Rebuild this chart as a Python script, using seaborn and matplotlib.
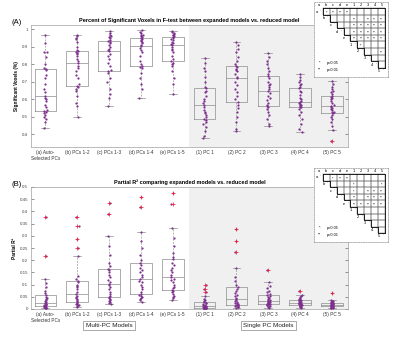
import pandas as pd
import matplotlib
matplotlib.use("Agg")
import matplotlib.pyplot as plt
import matplotlib.transforms as mtransforms
from matplotlib.patches import Rectangle
import seaborn as sns

group_labels = ["(a) Auto-\nSelected PCs", "(b) PCs 1-2", "(c) PCs 1-3", "(d) PCs 1-4", "(e) PCs 1-5",
                "(1) PC 1", "(2) PC 2", "(3) PC 3", "(4) PC 4", "(5) PC 5"]

# percent of significant voxels (panel A), one list per model
sig_voxels = [
    [0.436, 0.47, 0.49, 0.50, 0.51, 0.52, 0.525, 0.532, 0.54, 0.555, 0.57, 0.59, 0.60, 0.61, 0.62,
     0.64, 0.66, 0.69, 0.72, 0.74, 0.765, 0.776, 0.78, 0.80, 0.84, 0.87, 0.87, 0.92, 0.967],
    [0.496, 0.56, 0.58, 0.62, 0.65, 0.66, 0.67, 0.675, 0.69, 0.72, 0.74, 0.76, 0.78, 0.79, 0.805,
     0.82, 0.83, 0.85, 0.86, 0.865, 0.87, 0.877, 0.88, 0.90, 0.93, 0.945, 0.95, 0.96, 0.967],
    [0.56, 0.61, 0.63, 0.66, 0.70, 0.72, 0.75, 0.759, 0.77, 0.79, 0.81, 0.83, 0.85, 0.86, 0.874,
     0.88, 0.89, 0.90, 0.91, 0.92, 0.925, 0.931, 0.94, 0.95, 0.955, 0.96, 0.97, 0.98, 0.989],
    [0.605, 0.66, 0.69, 0.72, 0.75, 0.78, 0.785, 0.79, 0.80, 0.82, 0.85, 0.87, 0.88, 0.895, 0.906,
     0.91, 0.92, 0.93, 0.935, 0.94, 0.945, 0.952, 0.955, 0.96, 0.965, 0.97, 0.98, 0.985, 0.994],
    [0.63, 0.69, 0.72, 0.76, 0.79, 0.80, 0.81, 0.817, 0.83, 0.85, 0.87, 0.88, 0.89, 0.90, 0.908,
     0.915, 0.92, 0.93, 0.94, 0.945, 0.95, 0.958, 0.96, 0.965, 0.97, 0.975, 0.98, 0.985, 0.99],
    [0.379, 0.39, 0.42, 0.44, 0.46, 0.47, 0.48, 0.486, 0.50, 0.51, 0.52, 0.53, 0.54, 0.555, 0.565,
     0.58, 0.59, 0.60, 0.62, 0.64, 0.65, 0.662, 0.67, 0.70, 0.73, 0.76, 0.78, 0.81, 0.837],
    [0.417, 0.43, 0.47, 0.50, 0.53, 0.55, 0.57, 0.583, 0.60, 0.62, 0.64, 0.66, 0.68, 0.70, 0.719,
     0.73, 0.745, 0.76, 0.77, 0.775, 0.785, 0.79, 0.80, 0.82, 0.84, 0.87, 0.89, 0.91, 0.925],
    [0.45, 0.46, 0.49, 0.51, 0.53, 0.545, 0.555, 0.564, 0.57, 0.58, 0.595, 0.61, 0.62, 0.635, 0.646,
     0.66, 0.67, 0.68, 0.69, 0.70, 0.72, 0.732, 0.745, 0.76, 0.78, 0.80, 0.82, 0.84, 0.866],
    [0.41, 0.43, 0.46, 0.49, 0.51, 0.53, 0.545, 0.553, 0.556, 0.56, 0.565, 0.57, 0.574, 0.578, 0.582,
     0.59, 0.60, 0.61, 0.625, 0.64, 0.65, 0.662, 0.67, 0.68, 0.69, 0.70, 0.71, 0.725, 0.742],
    [0.36, 0.423, 0.45, 0.47, 0.49, 0.50, 0.51, 0.519, 0.525, 0.53, 0.54, 0.545, 0.55, 0.555, 0.562,
     0.57, 0.58, 0.59, 0.60, 0.605, 0.612, 0.62, 0.63, 0.64, 0.65, 0.66, 0.67, 0.69, 0.705],
]

# partial R^2 (panel B)
partial_r2 = [
    [0.004, 0.005, 0.006, 0.007, 0.008, 0.009, 0.010, 0.011, 0.012, 0.014, 0.016, 0.018, 0.020, 0.022, 0.025,
     0.028, 0.032, 0.036, 0.040, 0.045, 0.050, 0.058, 0.065, 0.075, 0.09, 0.105, 0.121, 0.217, 0.377],
    [0.010, 0.012, 0.015, 0.018, 0.020, 0.022, 0.025, 0.028, 0.032, 0.038, 0.042, 0.045, 0.048, 0.055, 0.062,
     0.07, 0.08, 0.09, 0.095, 0.10, 0.11, 0.115, 0.125, 0.135, 0.218, 0.25, 0.286, 0.34, 0.377],
    [0.020, 0.025, 0.028, 0.032, 0.038, 0.042, 0.046, 0.050, 0.055, 0.06, 0.07, 0.08, 0.09, 0.10, 0.104,
     0.11, 0.12, 0.13, 0.14, 0.15, 0.16, 0.163, 0.175, 0.19, 0.22, 0.26, 0.301, 0.388, 0.434],
    [0.030, 0.035, 0.040, 0.045, 0.05, 0.055, 0.058, 0.062, 0.07, 0.08, 0.09, 0.10, 0.11, 0.115, 0.121,
     0.13, 0.14, 0.15, 0.16, 0.17, 0.18, 0.187, 0.20, 0.22, 0.25, 0.28, 0.315, 0.416, 0.461],
    [0.036, 0.045, 0.05, 0.055, 0.06, 0.07, 0.075, 0.079, 0.085, 0.09, 0.10, 0.11, 0.12, 0.125, 0.13,
     0.14, 0.15, 0.16, 0.17, 0.18, 0.19, 0.204, 0.215, 0.23, 0.26, 0.29, 0.332, 0.432, 0.477],
    [0.002, 0.003, 0.003, 0.004, 0.004, 0.005, 0.005, 0.005, 0.006, 0.007, 0.008, 0.009, 0.010, 0.011, 0.012,
     0.014, 0.016, 0.018, 0.020, 0.023, 0.026, 0.030, 0.033, 0.037, 0.042, 0.052, 0.070, 0.084, 0.098],
    [0.005, 0.007, 0.009, 0.011, 0.013, 0.015, 0.017, 0.018, 0.020, 0.023, 0.026, 0.029, 0.032, 0.036, 0.041,
     0.046, 0.052, 0.058, 0.065, 0.072, 0.082, 0.091, 0.10, 0.115, 0.13, 0.17, 0.232, 0.28, 0.326],
    [0.006, 0.009, 0.011, 0.013, 0.015, 0.017, 0.019, 0.021, 0.022, 0.024, 0.025, 0.027, 0.028, 0.030, 0.032,
     0.035, 0.038, 0.042, 0.046, 0.050, 0.054, 0.058, 0.062, 0.068, 0.075, 0.085, 0.095, 0.112, 0.16],
    [0.005, 0.007, 0.009, 0.011, 0.013, 0.014, 0.016, 0.017, 0.018, 0.019, 0.020, 0.021, 0.022, 0.024, 0.025,
     0.026, 0.028, 0.029, 0.031, 0.033, 0.035, 0.036, 0.038, 0.041, 0.044, 0.048, 0.053, 0.059, 0.075],
    [0.004, 0.005, 0.006, 0.007, 0.008, 0.009, 0.010, 0.011, 0.012, 0.013, 0.014, 0.015, 0.016, 0.017, 0.018,
     0.019, 0.020, 0.021, 0.022, 0.023, 0.024, 0.025, 0.026, 0.028, 0.029, 0.031, 0.033, 0.037, 0.066],
]

# pairwise significance tables (row i vs columns after i)
table_labels = ["a", "b", "c", "d", "e", "1", "2", "3", "4", "5"]
sig_table_a = [
    ["*", "**", "**", "**", "", "", "", "", ""],
    ["", "", "", "**", "", "**", "**", "**"],
    ["", "", "**", "**", "**", "**", "**"],
    ["", "**", "**", "**", "**", "**"],
    ["**", "**", "**", "**", "**"],
    ["*", "", "", ""],
    ["", "", "**"],
    ["", ""],
    [""],
]
sig_table_b = [
    ["", "*", "**", "**", "", "", "", "", ""],
    ["", "", "", "*", "", "", "", "*"],
    ["", "", "*", "", "**", "**", "**"],
    ["", "**", "", "**", "**", "**"],
    ["**", "**", "**", "**", "**"],
    ["", "", "", ""],
    ["", "", ""],
    ["", ""],
    [""],
]

PURPLE = "#7E2F8E"
BOXGRAY = "#8c8c8c"
plt.rcParams['font.family'] = ['Liberation Sans', 'DejaVu Sans']

W, H = 400, 337
fig = plt.figure(figsize=(4, 3.37), dpi=100)


def long_form(values):
    rows = []
    for lab, vals in zip(group_labels, values):
        for v in vals:
            rows.append((lab, v))
    return pd.DataFrame(rows, columns=["group", "value"])


def draw_panel(ax, df, ylim, yticks, yticklabels, ylabel, title):
    ax.axvspan(4.5, 9.6, color="#f0f0f0", lw=0, zorder=0)
    sns.stripplot(data=df, x="group", y="value", ax=ax, color=PURPLE, size=1.6,
                  jitter=0.05, linewidth=0, zorder=3)
    sns.boxplot(data=df, x="group", y="value", ax=ax, fill=False, color=BOXGRAY,
                width=0.68, linewidth=0.5, whis=1.5, capwidths=0.25,
                whiskerprops=dict(linestyle=(0, (3, 2)), linewidth=0.45),
                flierprops=dict(marker="+", markeredgecolor="#e8203a", markersize=2.4,
                                markeredgewidth=0.55, zorder=4))
    ax.set_xlim(-0.45, 9.5)
    ax.set_ylim(*ylim)
    ax.set_yticks(yticks)
    ax.set_yticklabels(yticklabels)
    ax.set_xlabel("")
    ax.set_ylabel(ylabel, fontsize=3.4, fontweight="bold", labelpad=2)
    ax.set_title(title, fontsize=4.0, fontweight="bold", pad=2.5)
    ax.tick_params(axis="y", direction="in", right=True, length=2, width=0.4,
                   labelsize=3.2, colors="#444444", pad=2)
    ax.tick_params(axis="x", length=0, labelsize=3.4, colors="#333333", pad=2.5)
    for s in ax.spines.values():
        s.set_color("#a0a0a0")
        s.set_linewidth(0.5)


def draw_table(rect, sig_rows):
    tax = fig.add_axes(rect)
    tax.set_xlim(-0.75, 9.9)
    tax.set_ylim(9.85, -1.45)
    tax.set_xticks([])
    tax.set_yticks([])
    for s in tax.spines.values():
        s.set_linestyle((0, (2, 1.5)))
        s.set_color("#999999")
        s.set_linewidth(0.5)
    tax.text(-0.6, -1.0, ".", fontsize=2.6, ha="center", va="center")
    for k, lab in enumerate(table_labels):
        tax.text(k, -1.0, lab, fontsize=2.8, ha="center", va="center")
        tax.text(k - 0.4, k, lab, fontsize=2.8, ha="center", va="center")
        tax.text(k + 0.15, k, ".", fontsize=2.6, ha="center", va="bottom")
    for r, row in enumerate(sig_rows):
        for j, s in enumerate(row):
            c = r + 1 + j
            tax.add_patch(Rectangle((c - 0.5, r - 0.5), 1, 1, fill=False,
                                    ec="#666666", lw=0.35))
            if s:
                tax.text(c, r + 0.15, s, fontsize=2.6, ha="center", va="center")
    # outline: top and right edge, then the staircase
    tax.plot([0.5, 9.5, 9.5], [-0.5, -0.5, 8.5], color="black", lw=0.6)
    stair_x, stair_y = [0.5], [-0.5]
    for k in range(1, 10):
        stair_x += [k - 0.5, k + 0.5]
        stair_y += [k - 0.5, k - 0.5]
    tax.plot(stair_x, stair_y, color="black", lw=0.6)
    tax.text(0, 7.7, "*", fontsize=2.8, ha="center", va="center")
    tax.text(1.1, 7.7, "p<0.05", fontsize=2.8, ha="left", va="center")
    tax.text(0, 8.8, "**", fontsize=2.8, ha="center", va="center")
    tax.text(1.1, 8.8, "p<0.01", fontsize=2.8, ha="left", va="center")


ax_a = fig.add_axes([31 / W, 1 - 147 / H, 317 / W, 122 / H])
ax_b = fig.add_axes([31 / W, 1 - 309 / H, 317 / W, 122 / H])

draw_panel(ax_a, long_form(sig_voxels), (0.327, 1.025),
           [0.4, 0.5, 0.6, 0.7, 0.8, 0.9, 1.0],
           ["0.4", "0.5", "0.6", "0.7", "0.8", "0.9", "1"],
           "Significant Voxels (%)",
           "Percent of Significant Voxels in F-test between expanded models vs. reduced model")
draw_panel(ax_b, long_form(partial_r2), (0, 0.5),
           [0, 0.05, 0.1, 0.15, 0.2, 0.25, 0.3, 0.35, 0.4, 0.45, 0.5],
           ["0", "0.05", "0.1", "0.15", "0.2", "0.25", "0.3", "0.35", "0.4", "0.45", "0.5"],
           "Partial R\u00b2",
           "Partial R\u00b2 comparing expanded models vs. reduced model")

fig.text(12 / W, 1 - 22 / H, "(A)", fontsize=5.5, va="center")
fig.text(12 / W, 1 - 184 / H, "(B)", fontsize=5.5, va="center")

trans = mtransforms.blended_transform_factory(ax_b.transData, ax_b.transAxes)
box_kw = dict(boxstyle="square,pad=0.35", fc="white", ec="#888888", lw=0.5)
ax_b.text(2, -0.135, "Multi-PC Models", transform=trans, ha="center", va="center",
          fontsize=4.6, color="#222222", bbox=box_kw)
ax_b.text(7, -0.135, "Single PC Models", transform=trans, ha="center", va="center",
          fontsize=4.6, color="#222222", bbox=box_kw)

draw_table([314 / W, 1 - 77 / H, 74 / W, 75 / H], sig_table_a)
draw_table([314 / W, 1 - 242 / H, 74 / W, 74 / H], sig_table_b)

fig.savefig("out.png", dpi=100)
